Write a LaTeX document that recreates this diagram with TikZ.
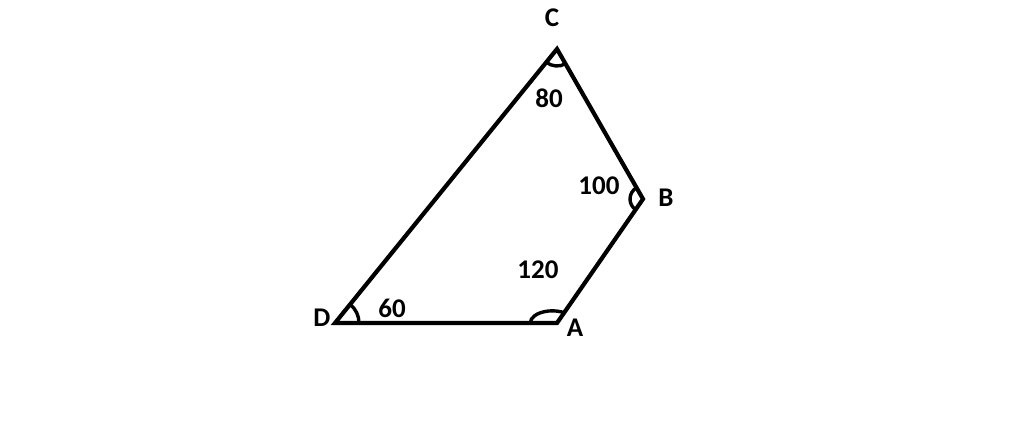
\documentclass[tikz,border=0pt]{standalone}
\usepackage{fontspec}
\setmainfont{Carlito}
\usepackage{tikz}
\usetikzlibrary{calc}

\begin{document}
\begin{tikzpicture}[x=1pt, y=1pt]
    \useasboundingbox (0,0) rectangle (1024,440);
    \tikzset{
        side/.style={line width=4.2pt, line join=miter},
        anglearc/.style={line width=3.4pt},
        lbl/.style={font=\fontsize{27}{32}\selectfont\bfseries, inner sep=0pt}
    }

    % corners
    \coordinate (D) at (335,117);
    \coordinate (A) at (557,117);
    \coordinate (B) at (643,241);
    \coordinate (C) at (557,391);

    % sides
    \draw[side] (D) -- (A) -- (B) -- (C) -- cycle;

    % angle marks
    \draw[anglearc] (D) ++(0:24) arc[start angle=0, end angle=51, radius=24];
    \draw[anglearc] (A) ++(8,10) arc[start angle=55, end angle=180, x radius=22, y radius=12];
    \draw[anglearc] (B) ++(120:13) arc[start angle=120, end angle=235, radius=13];
    \draw[anglearc] (C) ++(231:17) arc[start angle=231, end angle=300, radius=17];

    % corner names
    \node[lbl] (lC) at (552,422) {C};
    \node[lbl] (lB) at (666,242) {B};
    \node[lbl] (lD) at (322,122) {D};
    \node[lbl] (lA) at (575,112) {A};

    % angle values
    \node[lbl] (aC) at (549,342) {80};
    \node[lbl] (aB) at (599,254) {100};
    \node[lbl] (aA) at (538,170) {120};
    \node[lbl] (aD) at (392,132) {60};
\end{tikzpicture}
\end{document}
